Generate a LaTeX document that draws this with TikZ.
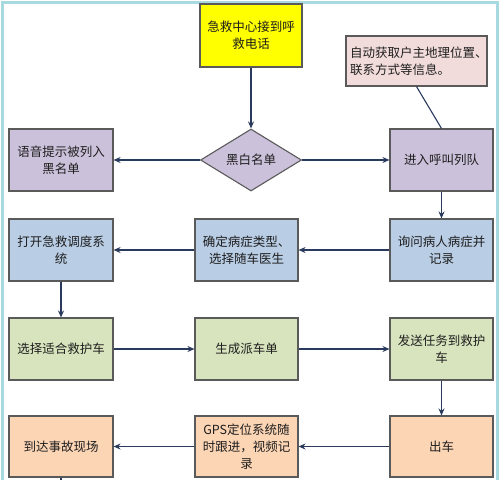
\documentclass[tikz,border=0pt]{standalone}
\usepackage{fontspec}
\newfontfamily\cjk{Noto Sans CJK SC}
\usetikzlibrary{arrows.meta,shapes.geometric}
\definecolor{frame}{HTML}{A8D8E0}
\definecolor{yel}{HTML}{FFFF00}
\definecolor{pur}{HTML}{CCC1DA}
\definecolor{blu}{HTML}{B9CDE5}
\definecolor{gre}{HTML}{D7E4BD}
\definecolor{ora}{HTML}{FCD5B5}
\definecolor{pin}{HTML}{F2DCDB}
\definecolor{edge}{HTML}{5A5A5A}
\definecolor{arr}{HTML}{2A3A5C}
\definecolor{txt}{HTML}{1E1E1E}
\tikzset{
  box/.style={draw=edge, line width=1.1pt, rectangle, minimum width=104pt, minimum height=62pt, inner sep=0pt, align=center, text=txt, font=\cjk\fontsize{12.5}{17}\selectfont},
  dia/.style={draw=edge, line width=1.1pt, diamond, minimum width=101pt, minimum height=62pt, inner sep=0pt, text=txt, font=\cjk\fontsize{12.5}{17}\selectfont},
  flow/.style={draw=arr, line width=1.2pt, -{Stealth[length=7pt,width=6pt]}},
  plain/.style={draw=arr, line width=1.1pt}
}
\begin{document}
\begin{tikzpicture}[x=1pt,y=-1pt]
\useasboundingbox (0,0) rectangle (500,480);
\fill[white] (0,0) rectangle (500,480);
% frame
\draw[frame, line width=3pt] (2.5,480) -- (2.5,2.5) -- (497.5,2.5) -- (497.5,480);

\node[box, fill=yel, minimum width=102pt, minimum height=63pt] (call) at (251,35.5) {急救中心接到呼\\救电话};
\node[box, fill=pin, minimum width=141pt, minimum height=50pt, align=left, text width=133pt] (note) at (416.5,61) {自动获取户主地理位置、\\联系方式等信息。};

\node[box, fill=pur] (voice) at (61,160) {语音提示被列入\\黑名单};
\node[dia, fill=pur] (bw) at (251,160) {黑白名单};
\node[box, fill=pur, minimum width=103pt] (queue) at (441.5,160) {进入呼叫列队};

\node[box, fill=blu] (open) at (61,250) {打开急救调度系\\统};
\node[box, fill=blu, minimum width=103pt] (confirm) at (246.5,250) {确定病症类型、\\选择随车医生};
\node[box, fill=blu, minimum width=103pt] (ask) at (441.5,250) {询问病人病症并\\记录};

\node[box, fill=gre] (choose) at (61,349) {选择适合救护车};
\node[box, fill=gre, minimum width=103pt] (gen) at (246.5,349) {生成派车单};
\node[box, fill=gre, minimum width=103pt] (send) at (441.5,349) {发送任务到救护\\车};

\node[box, fill=ora, minimum height=61pt] (arrive) at (61,446.5) {到达事故现场};
\node[box, fill=ora, minimum width=103pt, minimum height=61pt] (gps) at (246.5,446.5) {GPS定位系统随\\时跟进，视频记\\录};
\node[box, fill=ora, minimum width=103pt, minimum height=61pt] (out) at (441.5,446.5) {出车};
\coordinate (bend) at (61,480);

\draw[flow] (call.south) -- (bw.north);
\draw[flow] (bw.west) -- (voice.east);
\draw[flow] (bw.east) -- (queue.west);
\draw[plain] (note.south) -- (queue.north);
\draw[flow] (queue.south) -- (ask.north);
\draw[flow] (ask.west) -- (confirm.east);
\draw[flow] (confirm.west) -- (open.east);
\draw[flow] (open.south) -- (choose.north);
\draw[flow] (choose.east) -- (gen.west);
\draw[flow] (gen.east) -- (send.west);
\draw[flow] (send.south) -- (out.north);
\draw[flow] (out.west) -- (gps.east);
\draw[flow] (gps.west) -- (arrive.east);
\draw[plain] (arrive.south) -- (bend);
\end{tikzpicture}
\end{document}
